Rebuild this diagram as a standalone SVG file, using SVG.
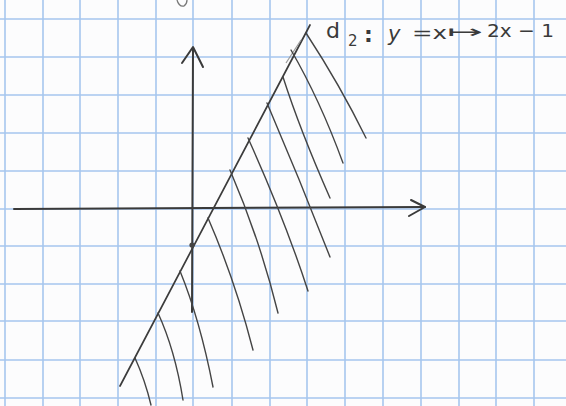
<svg xmlns="http://www.w3.org/2000/svg" width="566" height="406" viewBox="0 0 566 406">
<style>
.grid line{stroke:#a6c6ee;stroke-width:1.6}
.axis{stroke:#3a3a3a;stroke-width:2;fill:none;stroke-linecap:round;stroke-linejoin:round}
.main{stroke:#3c3c3c;stroke-width:1.7;fill:none;stroke-linecap:round}
.hatch path{stroke:#444;stroke-width:1.4;fill:none;stroke-linecap:round}
.lbl{font-family:"DejaVu Sans","Liberation Sans",sans-serif;fill:#3a3a3a}
</style>
<rect width="566" height="406" fill="#fcfcfd"/>
<g class="grid">
<line x1="5" y1="0" x2="5" y2="406"/><line x1="43" y1="0" x2="43" y2="406"/><line x1="80" y1="0" x2="80" y2="406"/><line x1="118" y1="0" x2="118" y2="406"/><line x1="156" y1="0" x2="156" y2="406"/><line x1="193" y1="0" x2="193" y2="406"/><line x1="232" y1="0" x2="232" y2="406"/><line x1="270" y1="0" x2="270" y2="406"/><line x1="307" y1="0" x2="307" y2="406"/><line x1="345" y1="0" x2="345" y2="406"/><line x1="383" y1="0" x2="383" y2="406"/><line x1="421" y1="0" x2="421" y2="406"/><line x1="459" y1="0" x2="459" y2="406"/><line x1="496" y1="0" x2="496" y2="406"/><line x1="534" y1="0" x2="534" y2="406"/>
<line x1="0" y1="19" x2="566" y2="19"/><line x1="0" y1="57" x2="566" y2="57"/><line x1="0" y1="95" x2="566" y2="95"/><line x1="0" y1="133" x2="566" y2="133"/><line x1="0" y1="171" x2="566" y2="171"/><line x1="0" y1="209" x2="566" y2="209"/><line x1="0" y1="246" x2="566" y2="246"/><line x1="0" y1="284" x2="566" y2="284"/><line x1="0" y1="321" x2="566" y2="321"/><line x1="0" y1="360" x2="566" y2="360"/><line x1="0" y1="398" x2="566" y2="398"/>
</g>
<path d="M177,0 Q179,7 184,6 Q187,4 187,0" stroke="#777" stroke-width="1.3" fill="none"/>
<g id="x-axis">
<path class="axis" d="M14,209 L425,207"/>
<path class="axis" d="M411,200 L425,207 L409,216"/>
</g>
<g id="y-axis">
<path class="axis" d="M192,312 L193,48"/>
<path class="axis" d="M182,63 L193,47 L203,67"/>
</g>
<g id="d2-line">
<path class="main" d="M120,386 L310,25"/>
<path d="M286,63 L301,40" stroke="#999" stroke-width="1.2" fill="none"/>
<circle cx="192" cy="245" r="2.6" fill="#444"/>
</g>
<g class="hatch" id="hatching">
<path d="M306,33 Q340,85 366,138"/>
<path d="M291,50 Q320,100 343,163"/>
<path d="M283,77 Q300,130 330,198"/>
<path d="M267,103 Q300,180 330,257"/>
<path d="M248,138 Q285,220 308,291"/>
<path d="M230,170 Q260,240 278,313"/>
<path d="M208,218 Q235,280 253,350"/>
<path d="M180,271 Q200,320 213,387"/>
<path d="M158,313 Q175,350 183,400"/>
<path d="M135,358 Q145,380 151,405"/>
</g>
<g id="label" class="lbl">
<text x="326" y="38" font-size="22">d</text>
<text x="348" y="46" font-size="15">2</text>
<text x="364" y="42" font-size="22" font-weight="bold">:</text>
<text x="388" y="41" font-size="21" font-style="italic">y</text>
<text x="412" y="39" font-size="18" textLength="35" lengthAdjust="spacingAndGlyphs">=x</text>
<text x="447" y="38" font-size="18" textLength="36" lengthAdjust="spacingAndGlyphs">↦</text>
<text x="487" y="37" font-size="18" textLength="67" lengthAdjust="spacingAndGlyphs">2x − 1</text>
</g>
</svg>
